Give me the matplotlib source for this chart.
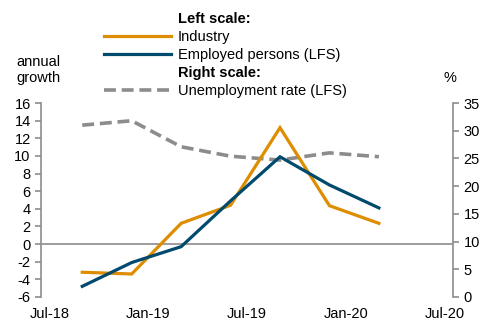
import matplotlib.pyplot as plt
from matplotlib.lines import Line2D

plt.rcParams['font.family'] = ['Liberation Sans', 'DejaVu Sans']
plt.rcParams['font.size'] = 10.5
plt.rcParams['axes.unicode_minus'] = False

# months since Jul-18 (quarter-end observations)
months = [2, 5, 8, 11, 14, 17, 20]
industry = [-3.2, -3.4, 2.35, 4.4, 13.2, 4.35, 2.35]
employed = [-4.8, -2.1, -0.3, 4.9, 9.9, 6.7, 4.1]
unemployment = [31.0, 31.8, 27.1, 25.4, 24.7, 26.0, 25.3]

tick_pos = [0, 6, 12, 18, 24]
tick_labels = ['Jul-18', 'Jan-19', 'Jul-19', 'Jan-20', 'Jul-20']

c_ind = '#DE8C00'
c_emp = '#004A6E'
c_unemp = '#8C8C8C'
c_axis = '#8C8C8C'
fs = 10.5

fig = plt.figure(figsize=(4.83, 3.27), dpi=100)
ax = fig.add_axes([0.085, 0.092, 0.853, 0.593])
ax2 = ax.twinx()

ax.plot(months, industry, color=c_ind, lw=2.3, solid_joinstyle='miter', zorder=3)
ax.plot(months, employed, color=c_emp, lw=2.3, solid_joinstyle='miter', zorder=4)
ax2.plot(months, unemployment, color=c_unemp, lw=2.6, dashes=(3.3, 1.6))
ax.axhline(0, color=c_axis, lw=1.2, zorder=2)

ax.set_xlim(-0.5, 24.5)
ax.set_ylim(-6, 16)
ax.set_yticks(range(-6, 17, 2))
ax2.set_ylim(0, 35)
ax2.set_yticks(range(0, 36, 5))
ax.set_xticks(tick_pos)
ax.set_xticklabels(tick_labels)

ax.set_zorder(ax2.get_zorder() + 1)
ax.patch.set_visible(False)

for a in (ax, ax2):
    for s in ['top', 'bottom']:
        a.spines[s].set_visible(False)
    a.tick_params(axis='y', colors=c_axis, labelcolor='black', length=4, width=1.2, labelsize=fs, pad=3.5)
ax.spines['right'].set_visible(False)
ax.spines['left'].set_color(c_axis)
ax.spines['left'].set_linewidth(1.2)
ax2.spines['left'].set_visible(False)
ax2.spines['right'].set_color(c_axis)
ax2.spines['right'].set_linewidth(1.2)
ax.tick_params(axis='x', length=0, labelsize=fs, pad=7)

fig.text(0.08, 0.785, 'annual\ngrowth', ha='center', va='center', fontsize=fs, linespacing=1.15)
fig.text(0.932, 0.76, '%', ha='center', va='center', fontsize=fs)

blank = Line2D([], [], alpha=0)
handles = [blank,
           Line2D([], [], color=c_ind, lw=2.3),
           Line2D([], [], color=c_emp, lw=2.3),
           blank,
           Line2D([], [], color=c_unemp, lw=2.6, dashes=(3.3, 1.6))]
labels = ['Left scale:', 'Industry', 'Employed persons (LFS)', 'Right scale:', 'Unemployment rate (LFS)']
leg = fig.legend(handles, labels, loc='upper left', bbox_to_anchor=(0.203, 0.982),
                 frameon=False, handlelength=4.6, handletextpad=0.45, labelspacing=0.28,
                 fontsize=fs, borderaxespad=0)
for i in (0, 3):
    leg.get_texts()[i].set_fontweight('bold')

fig.savefig('out.png', dpi=100)
